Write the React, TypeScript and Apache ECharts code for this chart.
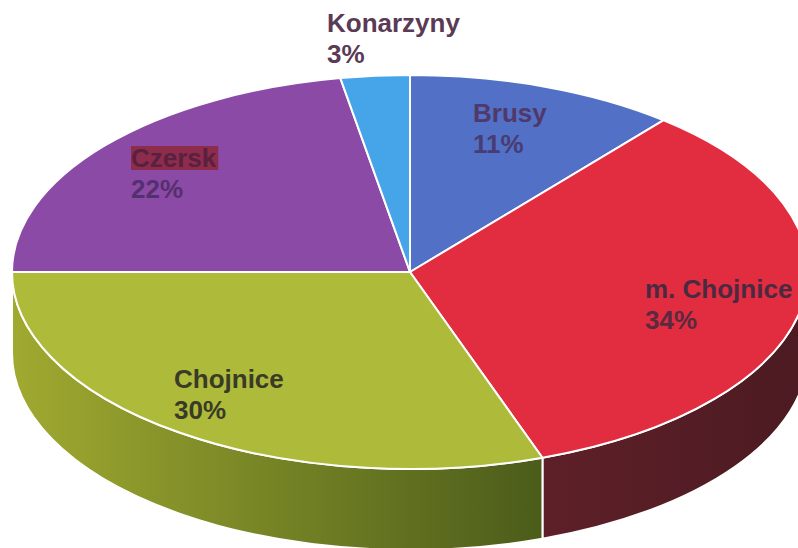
import React, { useEffect, useRef } from "react";
import * as echarts from "echarts";

const names = ["Brusy", "m. Chojnice", "Chojnice", "Czersk", "Konarzyny"];
const shares = [11, 33.6, 30.4, 22.2, 2.8];
const topColors = ["#5270c6", "#e22c40", "#aebb3a", "#8a4aa6", "#45a5e8"];
const wallLeft = ["#3a5090", "#5e2028", "#a0aa30", "#60307a", "#2f78a8"];
const wallRight = ["#3a5090", "#4c1a22", "#4b5c1a", "#60307a", "#2f78a8"];
const nameColors = ["#50386a", "#4a2a40", "#3a3a28", "#5a2040", "#5a3a54"];
const pctColors = ["#483c72", "#5a2a40", "#3a3a28", "#55306e", "#5a3a54"];
const labelX = [473, 645, 174, 131, 327];
const labelY = [113, 289, 379, 158, 23];

const CX = 410;
const CY = 272;
const RX = 398;
const RY = 197;
const DEPTH = 81;

const pt = (deg: number, dy = 0): [number, number] => {
  const a = (deg * Math.PI) / 180;
  return [CX + RX * Math.sin(a), CY - RY * Math.cos(a) + dy];
};

const total = shares.reduce((s, v) => s + v, 0);

function renderItem(params: any, api: any) {
  const i = params.dataIndex;
  const value = api.value(0);
  let before = 0;
  for (let k = 0; k < i; k++) before += shares[k];
  const a0 = (before / total) * 360;
  const a1 = ((before + value) / total) * 360;
  const children: any[] = [];

  const w0 = Math.max(a0, 90);
  const w1 = Math.min(a1, 270);
  if (w1 > w0) {
    const [x0, y0] = pt(w0);
    const [x1, y1] = pt(w1);
    const [x2, y2] = pt(w1, DEPTH);
    const [x3, y3] = pt(w0, DEPTH);
    const large = w1 - w0 > 180 ? 1 : 0;
    children.push({
      type: "path",
      z2: 1,
      shape: {
        pathData: `M${x0} ${y0}A${RX} ${RY} 0 ${large} 1 ${x1} ${y1}L${x2} ${y2}A${RX} ${RY} 0 ${large} 0 ${x3} ${y3}Z`,
      },
      style: {
        fill: {
          type: "linear",
          x: 0,
          y: 0,
          x2: 1,
          y2: 0,
          colorStops: [
            { offset: 0, color: wallLeft[i] },
            { offset: 1, color: wallRight[i] },
          ],
        },
        stroke: "#ffffff",
        lineWidth: 2,
      },
    });
  }

  const [sx, sy] = pt(a0);
  const [ex, ey] = pt(a1);
  const large = a1 - a0 > 180 ? 1 : 0;
  children.push({
    type: "path",
    z2: 2,
    shape: {
      pathData: `M${CX} ${CY}L${sx} ${sy}A${RX} ${RY} 0 ${large} 1 ${ex} ${ey}Z`,
    },
    style: { fill: topColors[i], stroke: "#ffffff", lineWidth: 2, lineJoin: "round" },
  });

  const font = 'bold 26px "Liberation Sans", Arial, sans-serif';
  children.push({
    type: "text",
    z2: 3,
    x: labelX[i],
    y: labelY[i],
    style: {
      text: names[i],
      font,
      fill: nameColors[i],
      align: "left",
      verticalAlign: "middle",
      ...(names[i] === "Czersk"
        ? { backgroundColor: "#8e2c4c", padding: [-1, 2, -1, 0] }
        : {}),
    },
  });
  children.push({
    type: "text",
    z2: 3,
    x: labelX[i],
    y: labelY[i] + 31,
    style: {
      text: `${Math.round(value)}%`,
      font,
      fill: pctColors[i],
      align: "left",
      verticalAlign: "middle",
    },
  });
  return { type: "group", children };
}

export default function App() {
  const ref = useRef<HTMLDivElement>(null);
  useEffect(() => {
    const chart = echarts.init(ref.current!, null, { renderer: "svg" });
    chart.setOption({
      animation: false,
      backgroundColor: "#ffffff",
      series: [
        {
          type: "custom",
          coordinateSystem: "none",
          silent: true,
          renderItem,
          data: shares.map((v, i) => ({ name: names[i], value: [v] })),
        },
      ],
    });
    return () => chart.dispose();
  }, []);
  return (
    <div
      ref={ref}
      style={{ position: "fixed", left: 0, top: 0, width: 798, height: 548 }}
    />
  );
}
